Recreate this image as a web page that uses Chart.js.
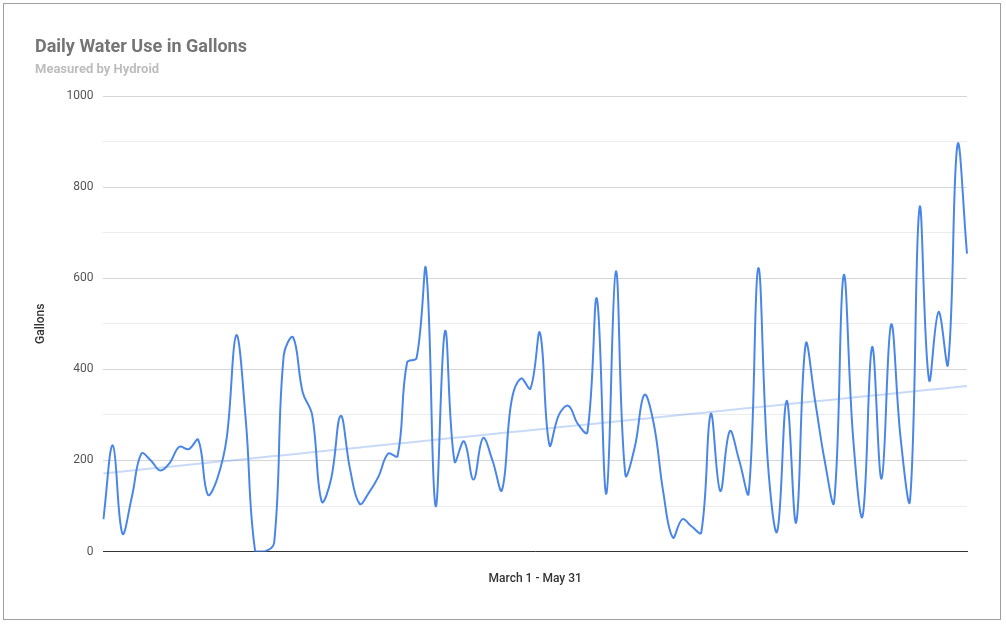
<!DOCTYPE html>
<html><head><meta charset="utf-8">
<script src="https://cdn.jsdelivr.net/npm/chart.js@4"></script>
<style>
html,body{margin:0;padding:0;background:#fff;}
#wrap{position:absolute;left:3px;top:3px;width:998px;height:617px;border:1px solid #9e9e9e;box-sizing:border-box;background:#fff;}
canvas{position:absolute;left:0;top:0;}
#t{position:absolute;left:31px;top:31px;font:bold 18px Roboto;color:#757575;}
#s{position:absolute;left:31px;top:57px;font:bold 13px Roboto;color:#bdbdbd;}
</style></head><body>
<div id="wrap"><canvas id="c" width="996" height="615"></canvas><div id="t"></div><div id="s"></div></div>
<script>
const title = "Daily Water Use in Gallons";
const subtitle = "Measured by Hydroid";
const xTitle = "March 1 - May 31";
const yTitle = "Gallons";
const gallons = [71,233,40,120,215,200,178,195,230,225,245,125,160,250,475,290,0,0,20,430,
470,350,300,110,160,298,180,105,130,165,215,210,415,425,620,100,484,198,242,158,
249,200,135,330,380,358,480,234,300,320,280,262,555,127,615,169,230,344,280,130,
31,71,55,42,302,133,264,200,129,622,200,44,331,64,455,330,200,109,606,250,
78,449,160,498,250,113,755,377,526,411,893,654];
const days = gallons.map((_, i) => "Day " + (i + 1));
document.getElementById('t').textContent = title;
document.getElementById('s').textContent = subtitle;
// linear trendline (least squares)
const n = gallons.length;
let sx=0, sy=0, sxy=0, sxx=0;
gallons.forEach((v,i)=>{sx+=i;sy+=v;sxy+=i*v;sxx+=i*i;});
const slope = (n*sxy - sx*sy)/(n*sxx - sx*sx), icpt = (sy - slope*sx)/n;
const trend = gallons.map((_, i) => icpt + slope*i);

new Chart(document.getElementById('c'), {
  type: 'line',
  data: { labels: days, datasets: [
    { data: gallons, borderColor: '#4a86e8', borderWidth: 2, pointRadius: 0, tension: 0.4, fill: false },
    { data: trend, borderColor: 'rgba(74,134,232,0.3)', borderWidth: 2, pointRadius: 0, tension: 0, fill: false }
  ]},
  options: {
    responsive: false, animation: false,
    layout: { padding: { left: 26, right: 33, top: 92, bottom: 29 } },
    plugins: { legend: { display: false }, tooltip: { enabled: false } },
    scales: {
      x: { grid: { display: false }, border: { color: '#333', width: 1 },
        ticks: { display: false },
        title: { display: true, text: xTitle, color: '#333', font: { family: 'Roboto', size: 12, weight: '500' }, padding: { top: 12 } } },
      y: { min: 0, max: 1000,
        ticks: { stepSize: 100, color: '#555', font: { family: 'Roboto', size: 12 }, padding: 10,
          callback: v => (v % 200 === 0 ? v : '') },
        grid: { color: ctx => (ctx.tick.value % 200 === 0 ? '#d6d6d6' : '#ececec'), drawTicks: false },
        border: { display: false },
        title: { display: true, text: yTitle, color: '#333', font: { family: 'Roboto', size: 12, weight: '500' }, padding: { bottom: 8 } } }
    }
  }
});
</script></body></html>
